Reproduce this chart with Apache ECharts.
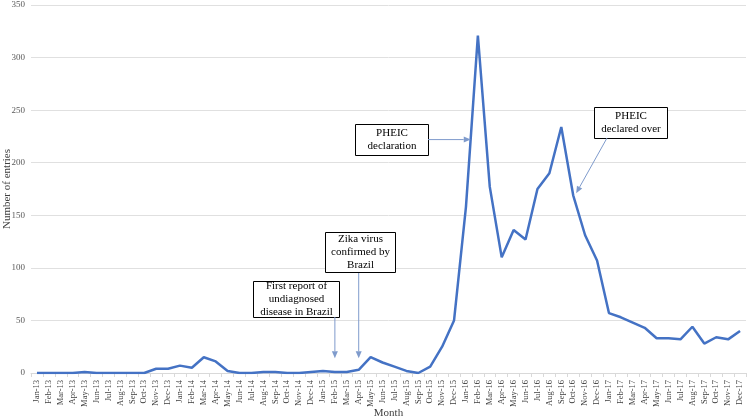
<!DOCTYPE html>
<html><head><meta charset="utf-8">
<script src="https://cdn.jsdelivr.net/npm/echarts@6/dist/echarts.min.js"></script>
<style>html,body{margin:0;padding:0;background:#fff}#c{width:752px;height:417px}</style>
</head><body><div id="c"></div>
<script>
var months = ['Jan','Feb','Mar','Apr','May','Jun','Jul','Aug','Sep','Oct','Nov','Dec'];
var years = ['13','14','15','16','17'];
var categories = [];
years.forEach(function(y){ months.forEach(function(m){ categories.push(m + '-' + y); }); });

var values2013 = [0,0,0,0,1,0,0,0,0,0,4,4];
var values2014 = [7,5,15,11,2,0,0,1,1,0,0,1];
var values2015 = [2,1,1,3,15,10,6,2,0,6,25,50];
var values2016 = [158,321,177,110,136,127,175,190,234,169,131,107];
var values2017 = [57,53,48,43,33,33,32,44,28,34,32,40];
var entries = values2013.concat(values2014, values2015, values2016, values2017);

var yTicks = [0,50,100,150,200,250,300,350];

var chart = echarts.init(document.getElementById('c'));
var serif = 'Liberation Serif, Times New Roman, serif';
chart.setOption({
  animation: false,
  grid: {left: 31, right: 6, top: 5, bottom: 44, containLabel: false, outerBoundsMode: 'none'},
  xAxis: {
    type: 'category', data: categories, boundaryGap: true,
    name: 'Month', nameLocation: 'middle', nameGap: 35, nameMoveOverlap: false,
    nameTextStyle: {fontFamily: serif, fontSize: 11, color: '#404040'},
    axisLine: {lineStyle: {color: '#d9d9d9'}},
    axisTick: {show: true, interval: 0, length: 4, lineStyle: {color: '#d9d9d9'}},
    axisLabel: {interval: 0, rotate: 90, fontFamily: serif, fontSize: 8.5, color: '#404040', margin: 7}
  },
  yAxis: {
    type: 'value', min: yTicks[0], max: yTicks[yTicks.length-1], interval: 50,
    name: 'Number of entries', nameLocation: 'middle', nameGap: 18, nameMoveOverlap: false,
    nameTextStyle: {fontFamily: serif, fontSize: 11, color: '#404040'},
    axisLine: {show: false}, axisTick: {show: false},
    axisLabel: {fontFamily: serif, fontSize: 9, color: '#595959', margin: 6},
    splitLine: {lineStyle: {color: '#e0e0e0'}}
  },
  series: [{
    type: 'line', data: entries, symbol: 'none',
    lineStyle: {color: '#4472C4', width: 2.5}
  }]
});

function px(idx, val) {
  var i0 = Math.floor(idx), i1 = Math.ceil(idx);
  var p0 = chart.convertToPixel({seriesIndex: 0}, [i0, val]);
  var p1 = chart.convertToPixel({seriesIndex: 0}, [i1, val]);
  var f = idx - i0;
  return [p0[0] + (p1[0] - p0[0]) * f, p0[1]];
}

var arrowColor = '#7f9bcc';
function arrow(from, to) {
  var dx = to[0] - from[0], dy = to[1] - from[1];
  var len = Math.sqrt(dx*dx + dy*dy), ux = dx/len, uy = dy/len;
  var hl = 7, hw = 3;
  var bx = to[0] - ux*hl, by = to[1] - uy*hl;
  return [
    {type: 'line', shape: {x1: from[0], y1: from[1], x2: bx, y2: by}, style: {stroke: arrowColor, lineWidth: 1}, z: 50},
    {type: 'polygon', shape: {points: [[to[0], to[1]], [bx - uy*hw, by + ux*hw], [bx + uy*hw, by - ux*hw]]}, style: {fill: arrowColor}, z: 50}
  ];
}
function box(x, y, w, h, text) {
  return {
    type: 'group', x: x, y: y, z: 60, children: [
      {type: 'rect', shape: {x: 0, y: 0, width: w, height: h}, style: {fill: '#fff', stroke: '#000', lineWidth: 1}},
      {type: 'text', x: w/2, y: h/2, style: {text: text, fontFamily: serif, fontSize: 11, fill: '#000', align: 'center', verticalAlign: 'middle', lineHeight: 13}}
    ]
  };
}

var t1 = px(25, 14), t2 = px(27, 14), t3 = px(36.4, 222), t4 = px(45.25, 171);
var graphics = [];
graphics = graphics.concat(arrow([t1[0], 317], t1));
graphics = graphics.concat(arrow([t2[0], 273], t2));
graphics = graphics.concat(arrow([428, t3[1]], t3));
graphics = graphics.concat(arrow([607, 138], t4));
graphics.push(box(253.5, 281.5, 86, 36, 'First report of\nundiagnosed\ndisease in Brazil'));
graphics.push(box(325.5, 232.5, 70, 40, 'Zika virus\nconfirmed by\nBrazil'));
graphics.push(box(355.5, 124.5, 73, 31, 'PHEIC\ndeclaration'));
graphics.push(box(594.5, 107.5, 73, 31, 'PHEIC\ndeclared over'));
chart.setOption({graphic: graphics});
</script></body></html>
